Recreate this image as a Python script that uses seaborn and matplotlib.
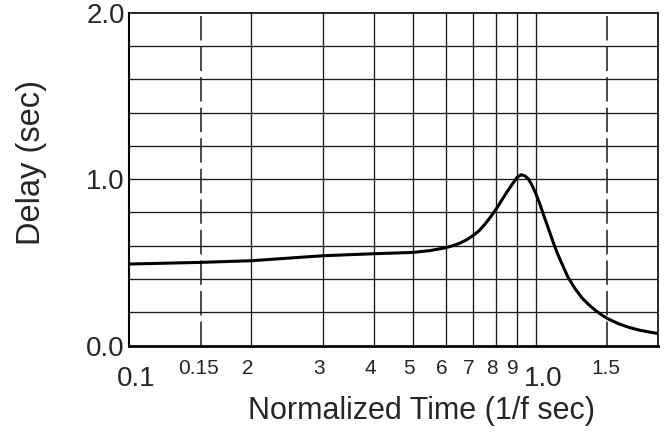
import numpy as np
import matplotlib
matplotlib.use('Agg')
import matplotlib.pyplot as plt
import seaborn as sns

# curve (normalized time, delay in sec)
norm_time = [0.10, 0.15, 0.20, 0.30, 0.40, 0.50, 0.55, 0.60, 0.625, 0.65, 0.675,
             0.70, 0.725, 0.75, 0.775, 0.80, 0.825, 0.85, 0.875, 0.90, 0.92,
             0.94, 0.96, 0.98, 1.00, 1.025, 1.05, 1.075, 1.10, 1.125, 1.15,
             1.20, 1.25, 1.30, 1.35, 1.40, 1.45, 1.50, 1.60, 1.70, 1.80, 1.90,
             2.00]
delay = [0.49, 0.50, 0.51, 0.54, 0.552, 0.56, 0.571, 0.588, 0.60, 0.615, 0.635,
         0.66, 0.69, 0.73, 0.775, 0.823, 0.875, 0.925, 0.97, 1.012, 1.027,
         1.02, 1.0, 0.96, 0.914, 0.845, 0.77, 0.70, 0.63, 0.565, 0.51,
         0.41, 0.34, 0.285, 0.245, 0.212, 0.185, 0.162, 0.13, 0.108, 0.092, 0.081,
         0.072]

solid_x = [0.2, 0.3, 0.4, 0.5, 0.6, 0.7, 0.8, 0.9, 1.0]
dashed_x = [0.15, 1.5]
grid_y = [0.2, 0.4, 0.6, 0.8, 1.0, 1.2, 1.4, 1.6, 1.8]

small_ticks = [0.15, 0.2, 0.3, 0.4, 0.5, 0.6, 0.7, 0.8, 0.9, 1.5]
small_labels = ['0.15', '2', '3', '4', '5', '6', '7', '8', '9', '1.5']
big_ticks = [0.1, 1.0]
big_labels = ['0.1', '1.0']
y_ticks = [0.0, 1.0, 2.0]
y_labels = ['0.0', '1.0', '2.0']

sns.set_style('white')
plt.rcParams['font.family'] = ['Liberation Sans', 'DejaVu Sans']

fig, ax = plt.subplots(figsize=(6.68, 4.32), dpi=100)
fig.subplots_adjust(left=0.1931, right=0.9855, top=0.970, bottom=0.2002)

ax.set_xscale('log')
ax.set_xlim(0.1, 2.0)
ax.set_ylim(0, 2.0)

grid_kw = dict(color='#1a1a1a', lw=0.95, zorder=1)
for v in solid_x:
    ax.axvline(v, **grid_kw)
for v in dashed_x:
    ax.axvline(v, color='#1a1a1a', lw=1.1, ls=(0, (16, 4)), zorder=1)
for h in grid_y:
    ax.axhline(h, **grid_kw)

sns.lineplot(x=norm_time, y=delay, ax=ax, color='black', lw=2.2,
             sort=False, zorder=3)

# tick labels drawn by hand (two sizes, odd offsets as in the original)
ax.set_xticks([])
ax.minorticks_off()
ax.tick_params(axis='both', length=0)
ax.set_yticks(y_ticks, y_labels, fontsize=20)
ax.tick_params(axis='y', pad=3)

xt = ax.get_xaxis_transform()
for t, lab in zip(small_ticks, small_labels):
    dx = -1.5 if '.' in lab else -2.9
    ax.annotate(lab, xy=(t, 0), xycoords=xt, xytext=(dx, -20.2),
                textcoords='offset points', ha='center', va='baseline',
                fontsize=15)
for t, lab in zip(big_ticks, big_labels):
    ax.annotate(lab, xy=(t, 0), xycoords=xt, xytext=(5.4, -28.8),
                textcoords='offset points', ha='center', va='baseline',
                fontsize=20)

ax.set_xlabel('Normalized Time (1/f sec)', fontsize=22)
ax.xaxis.set_label_coords(0.553, -0.153)
ax.set_ylabel('Delay (sec)', fontsize=23.5)
ax.yaxis.set_label_coords(-0.155, 0.55)

for name, sp in ax.spines.items():
    sp.set_color('black')
    sp.set_linewidth(1.2)
ax.spines['bottom'].set_linewidth(2.0)
ax.spines['left'].set_linewidth(1.5)

fig.savefig('out.png', dpi=100)
